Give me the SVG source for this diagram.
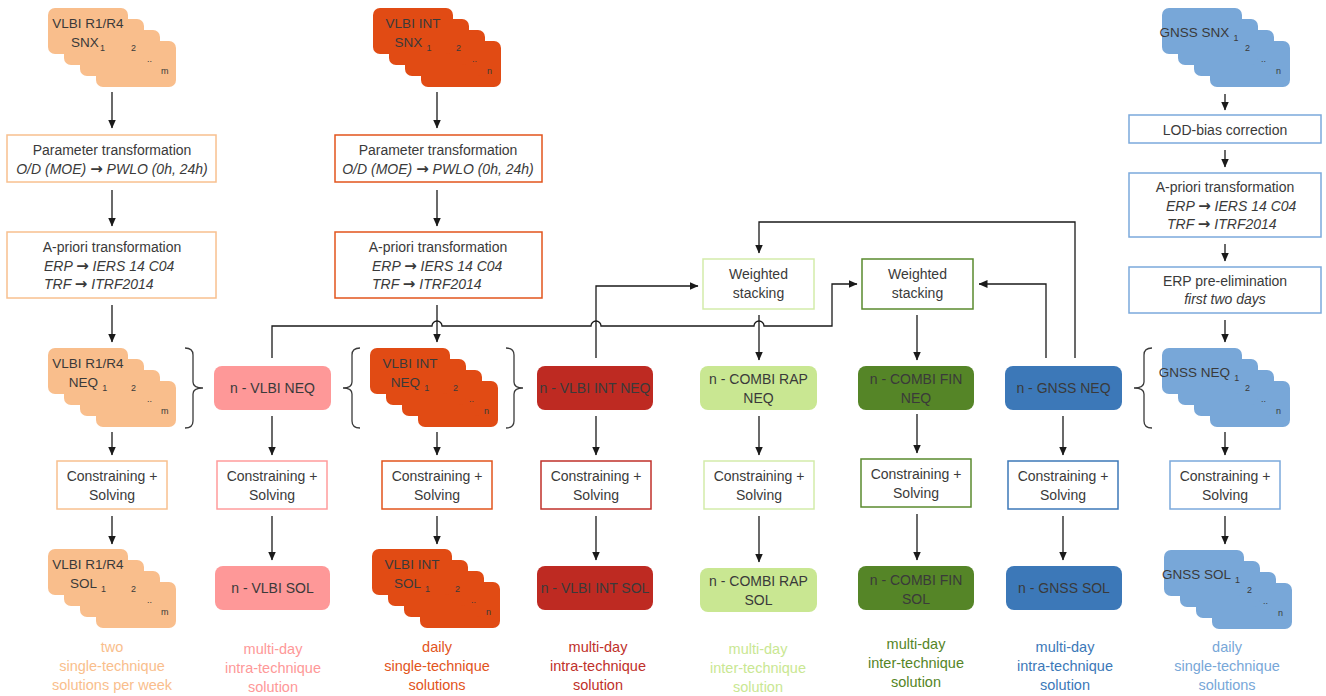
<svg xmlns="http://www.w3.org/2000/svg" width="1326" height="696" viewBox="0 0 1326 696">
<defs>
  <marker id="arr" markerWidth="9" markerHeight="8" refX="8.5" refY="4" orient="auto" markerUnits="userSpaceOnUse">
    <path d="M0,0 L9,4 L0,8 z" fill="#1a1a1a"/>
  </marker>
  <!-- four stacked cards, back to front -->
  <g id="cards">
    <rect x="48" y="33" width="80" height="46" rx="7"/>
    <rect x="32" y="22" width="80" height="46" rx="7"/>
    <rect x="16" y="11" width="80" height="46" rx="7"/>
    <rect x="0" y="0" width="80" height="46" rx="7"/>
  </g>
</defs>
<style>
  text{font-family:"Liberation Sans",Arial,sans-serif;fill:#3a3a3a}
  .t{font-size:14px;text-anchor:middle}
  .l{font-size:14px}
  .it{font-style:italic}
  .ar{font-family:"DejaVu Sans",sans-serif;font-style:normal;font-weight:bold;font-size:15px}
  .c{font-size:13.5px;text-anchor:middle}
  .sub{font-size:9px}
  .idx{font-size:9px}
  .lbl{font-size:14.5px;text-anchor:middle}
  .box{fill:#fff;stroke-width:1.5}
  .conn path{fill:none;stroke:#1a1a1a;stroke-width:1.3}
  .conn .a{marker-end:url(#arr)}
  .brace path{fill:none;stroke:#3a3a3a;stroke-width:1.3}
  .stk rect{stroke:#fff;stroke-width:1.3}
  .o1{fill:#F9BE8C}.o1s{stroke:#F8C08F}
  .o2{fill:#E14B14}.o2s{stroke:#E2541C}
  .p1{fill:#FE9898}.p1s{stroke:#FF9C9C}
  .r1{fill:#BE2A22}.r1s{stroke:#C0302A}
  .g1{fill:#C9E792}.g1s{stroke:#D3ECAA}
  .g2{fill:#558527}.g2s{stroke:#5A8A2E}
  .b1{fill:#3C78B8}.b1s{stroke:#3C78B8}
  .b2{fill:#78A7D8}.b2s{stroke:#7BA9DC}
  .nb rect{stroke:none}
</style>

<!-- ===== card stacks ===== -->
<g id="vlbi-r1r4-snx" class="stk" transform="translate(48,8)">
  <use href="#cards" class="o1"/>
  <text class="c" x="40" y="19.5">VLBI R1/R4</text>
  <text class="c" x="40" y="38.5">SNX<tspan class="sub" dx="1" dy="4">1</tspan></text>
  <text class="idx" x="83" y="43">2</text><text class="idx" x="99" y="54">..</text><text class="idx" x="113" y="66">m</text>
</g>
<g id="vlbi-int-snx" class="stk" transform="translate(373,8)">
  <use href="#cards" class="o2"/>
  <text class="c" x="40" y="19.5">VLBI INT</text>
  <text class="c" x="40" y="38.5">SNX<tspan class="sub" dx="4" dy="4">1</tspan></text>
  <text class="idx" x="83" y="43">2</text><text class="idx" x="99" y="54">..</text><text class="idx" x="114" y="66">n</text>
</g>
<g id="gnss-snx" class="stk" transform="translate(1162,8)">
  <use href="#cards" class="b2"/>
  <text class="c" x="37" y="29">GNSS SNX<tspan class="sub" dx="4" dy="4">1</tspan></text>
  <text class="idx" x="83" y="43">2</text><text class="idx" x="99" y="54">..</text><text class="idx" x="114" y="66">n</text>
</g>
<g id="vlbi-r1r4-neq" class="stk" transform="translate(48,348)">
  <use href="#cards" class="o1"/>
  <text class="c" x="40" y="19.5">VLBI R1/R4</text>
  <text class="c" x="40" y="38.5">NEQ<tspan class="sub" dx="4" dy="4">1</tspan></text>
  <text class="idx" x="83" y="43">2</text><text class="idx" x="99" y="54">..</text><text class="idx" x="113" y="66">m</text>
</g>
<g id="vlbi-int-neq" class="stk" transform="translate(370,348)">
  <use href="#cards" class="o2"/>
  <text class="c" x="40" y="19.5">VLBI INT</text>
  <text class="c" x="40" y="38.5">NEQ<tspan class="sub" dx="4" dy="4">1</tspan></text>
  <text class="idx" x="83" y="43">2</text><text class="idx" x="99" y="54">..</text><text class="idx" x="114" y="66">n</text>
</g>
<g id="gnss-neq" class="stk" transform="translate(1162,348)">
  <use href="#cards" class="b2"/>
  <text class="c" x="37" y="29">GNSS NEQ<tspan class="sub" dx="4" dy="4">1</tspan></text>
  <text class="idx" x="83" y="43">2</text><text class="idx" x="99" y="54">..</text><text class="idx" x="114" y="66">n</text>
</g>
<g id="vlbi-r1r4-sol" class="stk" transform="translate(48,549)">
  <use href="#cards" class="o1"/>
  <text class="c" x="40" y="19.5">VLBI R1/R4</text>
  <text class="c" x="40" y="38.5">SOL<tspan class="sub" dx="4" dy="4">1</tspan></text>
  <text class="idx" x="83" y="43">2</text><text class="idx" x="99" y="54">..</text><text class="idx" x="113" y="66">m</text>
</g>
<g id="vlbi-int-sol" class="stk" transform="translate(372,549)">
  <use href="#cards" class="o2"/>
  <text class="c" x="40" y="19.5">VLBI INT</text>
  <text class="c" x="40" y="38.5">SOL<tspan class="sub" dx="4" dy="4">1</tspan></text>
  <text class="idx" x="83" y="43">2</text><text class="idx" x="99" y="54">..</text><text class="idx" x="114" y="66">n</text>
</g>
<g id="gnss-sol" class="stk" transform="translate(1164,550)">
  <use href="#cards" class="b2"/>
  <text class="c" x="37" y="29">GNSS SOL<tspan class="sub" dx="4" dy="4">1</tspan></text>
  <text class="idx" x="83" y="43">2</text><text class="idx" x="99" y="54">..</text><text class="idx" x="114" y="66">n</text>
</g>

<!-- ===== processing boxes ===== -->
<g id="param-r1r4">
  <rect class="box o1s" x="7" y="135" width="209" height="47"/>
  <text class="t" x="112" y="155">Parameter transformation</text>
  <text class="t it" x="112" y="174">O/D (MOE) <tspan class="ar">→</tspan> PWLO (0h, 24h)</text>
</g>
<g id="apriori-r1r4">
  <rect class="box o1s" x="7" y="232" width="209" height="66"/>
  <text class="t" x="112" y="252">A-priori transformation</text>
  <text class="l it" x="44" y="271">ERP <tspan class="ar">→</tspan> IERS 14 C04</text>
  <text class="l it" x="44" y="289">TRF <tspan class="ar">→</tspan> ITRF2014</text>
</g>
<g id="param-int">
  <rect class="box o2s" x="335" y="135" width="207" height="47"/>
  <text class="t" x="438" y="155">Parameter transformation</text>
  <text class="t it" x="438" y="174">O/D (MOE) <tspan class="ar">→</tspan> PWLO (0h, 24h)</text>
</g>
<g id="apriori-int">
  <rect class="box o2s" x="335" y="232" width="207" height="66"/>
  <text class="t" x="438" y="252">A-priori transformation</text>
  <text class="l it" x="372" y="271">ERP <tspan class="ar">→</tspan> IERS 14 C04</text>
  <text class="l it" x="372" y="289">TRF <tspan class="ar">→</tspan> ITRF2014</text>
</g>
<g id="lod-gnss">
  <rect class="box b2s" x="1129" y="115" width="192" height="28"/>
  <text class="t" x="1225" y="135">LOD-bias correction</text>
</g>
<g id="apriori-gnss">
  <rect class="box b2s" x="1129" y="173" width="192" height="64"/>
  <text class="t" x="1225" y="192">A-priori transformation</text>
  <text class="l it" x="1166" y="211">ERP <tspan class="ar">→</tspan> IERS 14 C04</text>
  <text class="l it" x="1167" y="229">TRF <tspan class="ar">→</tspan> ITRF2014</text>
</g>
<g id="erp-gnss">
  <rect class="box b2s" x="1129" y="267" width="192" height="46"/>
  <text class="t" x="1225" y="286">ERP pre-elimination</text>
  <text class="t it" x="1225" y="304">first two days</text>
</g>
<g id="stack-rap">
  <rect class="box g1s" x="703" y="259" width="111" height="50"/>
  <text class="t" x="758.5" y="279">Weighted</text>
  <text class="t" x="758.5" y="298">stacking</text>
</g>
<g id="stack-fin">
  <rect class="box g2s" x="862" y="259" width="111" height="50"/>
  <text class="t" x="917.5" y="279">Weighted</text>
  <text class="t" x="917.5" y="298">stacking</text>
</g>

<!-- normal equation boxes -->
<g id="neq-vlbi" class="nb"><rect class="p1" x="214" y="366" width="117" height="44" rx="8"/><text class="t" x="272.5" y="393">n - VLBI NEQ</text></g>
<g id="neq-int" class="nb"><rect class="r1" x="537" y="366" width="116" height="44" rx="8"/><text class="t" x="595" y="393">n - VLBI INT NEQ</text></g>
<g id="neq-rap" class="nb"><rect class="g1" x="700" y="366" width="117" height="44" rx="8"/><text class="t" x="758.5" y="384">n - COMBI RAP</text><text class="t" x="758.5" y="403">NEQ</text></g>
<g id="neq-fin" class="nb"><rect class="g2" x="858" y="366" width="116" height="44" rx="8"/><text class="t" x="916" y="384">n - COMBI FIN</text><text class="t" x="916" y="403">NEQ</text></g>
<g id="neq-gnss" class="nb"><rect class="b1" x="1005" y="366" width="117" height="44" rx="8"/><text class="t" x="1063.5" y="393">n - GNSS NEQ</text></g>

<!-- constraining and solving -->
<g id="cs-r1r4"><rect class="box o1s" x="57" y="461" width="110" height="48"/><text class="t" x="112" y="481">Constraining +</text><text class="t" x="112" y="500">Solving</text></g>
<g id="cs-vlbi"><rect class="box p1s" x="217" y="461" width="110" height="48"/><text class="t" x="272" y="481">Constraining +</text><text class="t" x="272" y="500">Solving</text></g>
<g id="cs-int"><rect class="box o2s" x="382" y="461" width="110" height="48"/><text class="t" x="437" y="481">Constraining +</text><text class="t" x="437" y="500">Solving</text></g>
<g id="cs-intneq"><rect class="box r1s" x="541" y="461" width="110" height="48"/><text class="t" x="596" y="481">Constraining +</text><text class="t" x="596" y="500">Solving</text></g>
<g id="cs-rap"><rect class="box g1s" x="704" y="461" width="110" height="48"/><text class="t" x="759" y="481">Constraining +</text><text class="t" x="759" y="500">Solving</text></g>
<g id="cs-fin"><rect class="box g2s" x="861" y="459" width="110" height="48"/><text class="t" x="916" y="479">Constraining +</text><text class="t" x="916" y="498">Solving</text></g>
<g id="cs-gnssneq"><rect class="box b1s" x="1008" y="461" width="110" height="48"/><text class="t" x="1063" y="481">Constraining +</text><text class="t" x="1063" y="500">Solving</text></g>
<g id="cs-gnss"><rect class="box b2s" x="1170" y="461" width="110" height="48"/><text class="t" x="1225" y="481">Constraining +</text><text class="t" x="1225" y="500">Solving</text></g>

<!-- solution boxes -->
<g id="sol-vlbi" class="nb"><rect class="p1" x="215" y="566" width="115" height="44" rx="8"/><text class="t" x="272.5" y="593">n - VLBI SOL</text></g>
<g id="sol-int" class="nb"><rect class="r1" x="537" y="566" width="116" height="44" rx="8"/><text class="t" x="595" y="593">n - VLBI INT SOL</text></g>
<g id="sol-rap" class="nb"><rect class="g1" x="700" y="568" width="117" height="44" rx="8"/><text class="t" x="758.5" y="586">n - COMBI RAP</text><text class="t" x="758.5" y="605">SOL</text></g>
<g id="sol-fin" class="nb"><rect class="g2" x="858" y="566" width="116" height="44" rx="8"/><text class="t" x="916" y="585">n - COMBI FIN</text><text class="t" x="916" y="604">SOL</text></g>
<g id="sol-gnss" class="nb"><rect class="b1" x="1006" y="566" width="116" height="44" rx="8"/><text class="t" x="1064" y="593">n - GNSS SOL</text></g>

<!-- ===== braces ===== -->
<g id="braces" class="brace">
  <path d="M185,348 Q193,348 193,355 V382 Q193,388 203,388 Q193,388 193,394 V421 Q193,428 185,428"/>
  <path d="M360,348 Q352,348 352,355 V382 Q352,388 343,388 Q352,388 352,394 V421 Q352,428 360,428"/>
  <path d="M506,348 Q514,348 514,355 V382 Q514,388 523,388 Q514,388 514,394 V421 Q514,428 506,428"/>
  <path d="M1152,348 Q1144,348 1144,355 V382 Q1144,388 1134,388 Q1144,388 1144,394 V421 Q1144,428 1152,428"/>
</g>

<!-- ===== connectors ===== -->
<g id="connectors" class="conn">
  <path class="a" d="M112,92 V128"/>
  <path class="a" d="M112,190 V226"/>
  <path class="a" d="M112,305 V342"/>
  <path class="a" d="M112,432 V455"/>
  <path class="a" d="M112,516 V544"/>

  <path class="a" d="M272,358 V326 H432 A5,5 0 0 1 442,326 H591 A5,5 0 0 1 601,326 H754 A5,5 0 0 1 764,326 H832 V284 H857"/>
  <path class="a" d="M272,416 V455"/>
  <path class="a" d="M272,516 V560"/>

  <path class="a" d="M437,92 V128"/>
  <path class="a" d="M437,190 V226"/>
  <path class="a" d="M437,305 V342"/>
  <path class="a" d="M437,432 V455"/>
  <path class="a" d="M437,516 V544"/>

  <path class="a" d="M596,358 V286 H698"/>
  <path class="a" d="M596,416 V455"/>
  <path class="a" d="M596,516 V560"/>

  <path class="a" d="M759,315 V360"/>
  <path class="a" d="M759,416 V455"/>
  <path class="a" d="M759,516 V562"/>

  <path class="a" d="M917,315 V360"/>
  <path class="a" d="M917,414 V453"/>
  <path class="a" d="M917,514 V560"/>

  <path class="a" d="M1046,358 V284 H979"/>
  <path class="a" d="M1075,358 V222 H759 V253"/>
  <path class="a" d="M1063,416 V455"/>
  <path class="a" d="M1063,516 V560"/>

  <path class="a" d="M1225,94 V110"/>
  <path class="a" d="M1225,150 V167"/>
  <path class="a" d="M1225,244 V261"/>
  <path class="a" d="M1225,320 V342"/>
  <path class="a" d="M1225,432 V455"/>
  <path class="a" d="M1225,516 V544"/>
</g>

<!-- ===== captions ===== -->
<g id="captions">
  <text class="lbl" x="112" y="652" style="fill:#F9BE8C">two</text>
  <text class="lbl" x="112" y="671" style="fill:#F9BE8C">single-technique</text>
  <text class="lbl" x="112" y="690" style="fill:#F9BE8C">solutions per week</text>

  <text class="lbl" x="273" y="654" style="fill:#FE9898">multi-day</text>
  <text class="lbl" x="273" y="673" style="fill:#FE9898">intra-technique</text>
  <text class="lbl" x="273" y="692" style="fill:#FE9898">solution</text>

  <text class="lbl" x="437" y="652" style="fill:#E2541C">daily</text>
  <text class="lbl" x="437" y="671" style="fill:#E2541C">single-technique</text>
  <text class="lbl" x="437" y="690" style="fill:#E2541C">solutions</text>

  <text class="lbl" x="598" y="652" style="fill:#C0302A">multi-day</text>
  <text class="lbl" x="598" y="671" style="fill:#C0302A">intra-technique</text>
  <text class="lbl" x="598" y="690" style="fill:#C0302A">solution</text>

  <text class="lbl" x="758" y="654" style="fill:#C9E792">multi-day</text>
  <text class="lbl" x="758" y="673" style="fill:#C9E792">inter-technique</text>
  <text class="lbl" x="758" y="692" style="fill:#C9E792">solution</text>

  <text class="lbl" x="916" y="649" style="fill:#558527">multi-day</text>
  <text class="lbl" x="916" y="668" style="fill:#558527">inter-technique</text>
  <text class="lbl" x="916" y="687" style="fill:#558527">solution</text>

  <text class="lbl" x="1065" y="652" style="fill:#3C78B8">multi-day</text>
  <text class="lbl" x="1065" y="671" style="fill:#3C78B8">intra-technique</text>
  <text class="lbl" x="1065" y="690" style="fill:#3C78B8">solution</text>

  <text class="lbl" x="1227" y="652" style="fill:#78A7D8">daily</text>
  <text class="lbl" x="1227" y="671" style="fill:#78A7D8">single-technique</text>
  <text class="lbl" x="1227" y="690" style="fill:#78A7D8">solutions</text>
</g>
</svg>
